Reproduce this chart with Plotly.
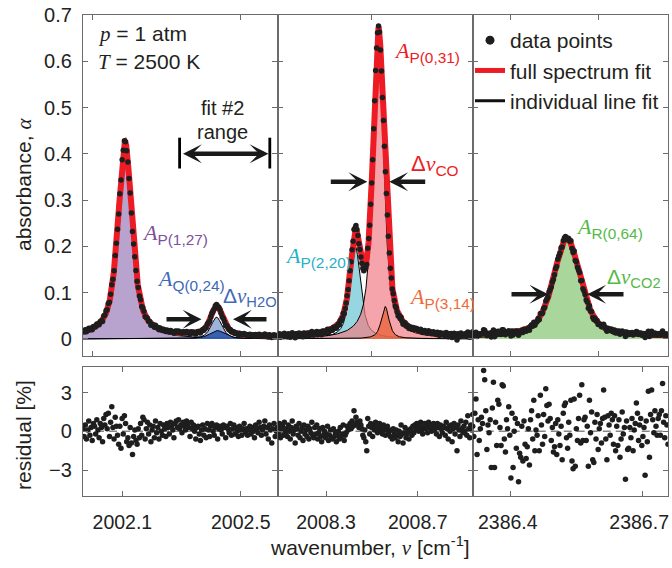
import numpy as np
import plotly.graph_objects as go

W, H = 672, 568
ML, MR, MT, MB = 83, 4, 15, 72
PW, PH = W - ML - MR, H - MT - MB

# ---------------- data ----------------
panel_ranges = [[2001.967, 2002.624], [2008.088, 2008.940], [2386.313, 2386.759]]
panel_baseline = [0.005, 0.004, 0.006]

line_panel = [0, 0, 0, 1, 1, 1, 2]
line_label = ["P(1,27)", "Q(0,24)", "H2O", "P(2,20)", "P(0,31)", "P(3,14)", "R(0,64)"]
line_center = [2002.109, 2002.418, 2002.421, 2008.428, 2008.528, 2008.558, 2386.528]
line_height = [0.420, 0.047, 0.018, 0.200, 0.640, 0.070, 0.212]
line_hwhm = [0.028, 0.022, 0.030, 0.027, 0.028, 0.020, 0.036]
line_eta = [0.70, 0.60, 0.60, 0.70, 0.70, 0.70, 0.50]

resid_1 = [0.2, -0.4, 0.5, -0.6, 0.1, 0.8, -0.3, 0.3, -0.7, 0.6,
           0.4, -0.2, 0.9, 0.1, -0.5, 0.6, 0.3, -0.8, 1.0, 0.5,
           1.3, 0.2, 1.4, -0.4, 0.7, 1.9, 0.3, -0.6, 1.1, 0.4,
           -0.3, -1.0, 0.4, -1.3, 1.0, -0.2, 1.2, 0.6, -0.8, -0.5,
           -1.1, 0.3, -0.9, -1.8, -0.4, 0.1, -0.7, -1.0, 0.2, -0.5,
           0.6, -0.3, 1.1, 0.9, -0.6, 0.2, 0.7, -0.2, 0.5, -0.8,
           0.1, 0.4, -0.5, 0.8, -0.1, 0.3, -0.6, 0.6, 0.0, -0.3,
           0.5, 0.2, -0.4, 0.6, 0.3, -0.2, 0.7, 0.4, 0.1, -0.5,
           0.6, 0.8, 0.3, 0.9, 0.2, 0.5, -0.1, 0.7, 0.4, 0.1,
           0.8, 0.6, 0.3, -0.4, 0.7, 0.2, 0.5, 0.0, -0.6, 0.3,
           0.4, -0.2, -0.7, 0.1, 0.5, -0.3, 0.2, -0.5, 0.6, 0.1,
           -0.4, 0.4, 0.6, 0.0, -0.3, 0.3, 0.5, -0.6, 0.2, 0.4,
           0.1, -0.2, 0.5, 0.3, -0.5, 0.4, 0.2, -0.1, 0.6, -0.3,
           0.2, 0.5, -0.2, 0.3, 0.0, -0.4, 0.4, 0.1, -0.3, 0.2,
           0.6, -0.1, 0.2, -0.3, 0.1, 0.4, -0.2, 0.3, 0.0, -0.5,
           0.5, 0.2, -0.1, 0.7, 0.3, -0.3, 0.1, 0.4, 0.8, -0.2,
           0.3, -0.6, 0.5, 0.1, -0.9, 0.2, 0.6, -0.4, 0.0, 0.3]

resid_2 = [0.3, -0.2, 0.6, -0.5, 0.1, 0.4, -0.3, 0.7, -0.1, 0.2,
           -0.4, 0.5, 0.0, -0.6, 0.3, 0.8, -0.2, 0.1, -0.9, 0.4,
           0.2, -0.3, 0.6, -0.5, 0.0, 0.3, -0.7, 0.5, -0.2, 0.1,
           -0.4, 0.4, -0.6, 0.2, -0.1, 0.7, -0.3, -0.5, 0.3, -0.2,
           0.5, -0.6, -0.1, 0.2, -0.4, -0.8, 0.3, -0.3, 0.0, -0.5,
           -0.2, 0.4, -0.7, -0.3, 0.1, -0.5, -0.6, 0.2, -0.4, -0.1,
           -0.8, -0.3, 0.0, -0.6, 0.3, -0.4, -0.2, 0.5, -0.7, -0.3,
           -0.1, 0.4, 0.1, 0.3, 0.6, 0.2, 0.8, 0.4, 1.6, 0.5,
           1.1, 0.7, 0.6, 0.3, 0.8, 0.5, 0.2, -0.3, -0.5, 0.1,
           -0.8, -1.5, 1.0, 0.4, -0.2, 0.6, 0.3, -0.4, 0.5, 0.1,
           0.7, 0.2, -0.1, 0.4, 0.6, 0.0, 0.3, -0.2, 0.5, 0.1,
           -0.3, 0.2, 0.4, -0.1, 0.0, -0.4, 0.1, -0.6, 0.2, -0.2,
           -0.5, 0.1, -0.3, -0.8, 0.0, -0.4, 0.5, -0.2, -0.9, -0.1,
           0.3, -0.5, -0.2, 0.1, -0.6, 0.0, 0.2, -0.3, 0.4, -0.1,
           0.5, 0.2, 0.6, 0.3, 0.0, 0.4, 0.7, 0.1, -0.2, 0.3,
           0.6, 0.2, 0.4, -0.1, 0.7, 0.3, 0.5, 0.0, 0.2, 0.6,
           0.1, 0.4, -0.2, 0.6, 0.3, -0.4, 0.5, 0.2, -0.1, 0.4,
           0.3, -0.3, 0.7, 0.2, -0.6, 0.4, 0.0, 0.5, -0.8, 0.2,
           0.6, -0.2, 0.3, -1.5, 0.5, 0.1, -0.4, 0.8, 0.2, -0.1,
           0.4, 0.0, 0.7, -0.3, 1.2, 0.2, -0.5, 0.5, 0.1, 1.3]

resid_3 = [0.4, -0.4, 1.4, 2.5, -1.8, 0.9, -0.7, 0.2, 1.1, 0.6,
           4.7, 4.0, 1.6, -1.4, 0.5, -0.1, 0.9, -2.8, 1.8, 3.8,
           -2.8, 0.7, -1.1, 2.4, 2.1, 0.3, -1.1, 3.6, 3.5, -0.6,
           -1.6, 0.9, 0.2, 1.9, -0.3, -3.6, 1.4, -2.8, 0.0, 1.0,
           -1.3, 0.6, -3.9, -1.7, -2.0, 0.4, -2.3, 0.8, -1.0, -2.1,
           -1.2, 0.2, -2.6, 0.9, 1.6, -0.6, 2.4, -1.5, 0.1, -0.3,
           1.2, -1.5, 2.8, 0.5, -1.0, 1.3, -0.4, 3.3, 2.0, 0.8,
           2.1, 1.0, -0.7, 0.3, -1.6, -1.2, 0.6, -1.8, 0.9, -0.2,
           -1.1, 0.4, -2.2, 1.4, 2.0, 2.2, -0.5, -1.3, 0.7, -0.3,
           2.4, -2.3, -2.9, 2.5, -2.7, 0.2, -0.7, 1.0, 2.8, -0.9,
           3.6, -0.7, 0.9, 1.1, -0.7, 0.4, -2.7, 2.4, -0.1, 1.5,
           -2.2, -2.4, 0.7, -0.6, 1.3, -1.4, 0.2, 0.6, -0.9, 1.0,
           3.2, 1.1, -0.6, -2.2, 1.2, 0.5, -0.3, 1.4, 0.9, -1.0,
           1.2, -1.5, 0.4, -1.1, 0.9, -2.0, -0.6, 1.5, -0.2, 0.3,
           -3.7, 0.8, -1.4, -1.3, 0.3, -0.5, 1.0, -1.5, 0.1, 0.6,
           2.2, 1.4, -0.7, 0.5, 1.0, -1.1, -0.4, 0.3, -3.4, 0.8,
           -0.8, 3.1, -2.0, 1.3, 3.2, 0.9, -0.1, 1.6, 0.4, -0.3,
           1.0, 1.3, -0.3, 1.6, 3.7, 0.7, -0.5, 1.2, 0.5, -1.0]
residuals = [resid_1, resid_2, resid_3]

top_ticks = [[2002.0, 2002.5], [2008.5], [2386.4, 2386.6]]
bot_ticks = [[2002.1, 2002.5], [2008.3, 2008.7], [2386.4, 2386.7]]
bot_ticktext = [["2002.1", "2002.5"], ["2008.3", "2008.7"], ["2386.4", "2386.7"]]
abs_ticks = [0, 0.1, 0.2, 0.3, 0.4, 0.5, 0.6, 0.7]
res_ticks = [-3, 0, 3]

# ---------------- styles ----------------
fill_colors = ["rgba(160,132,191,0.75)", "rgba(120,155,210,0.75)", "rgba(40,80,170,0.85)",
               "rgba(78,187,205,0.6)", "rgba(239,125,134,0.7)", "rgba(232,92,46,0.7)",
               "rgba(140,200,120,0.75)"]
RED = "rgb(237,28,36)"
DOT = "#1e1e1e"
AX = "#6b6b6b"
FONT = "Liberation Sans, Arial, sans-serif"
SERIF = "Liberation Serif"


def pv(x, c, h, g, eta):
    d = (x - c) / g
    return h * (eta / (1 + d * d) + (1 - eta) * np.exp(-np.log(2) * d * d))


def px(x):
    return (x - ML) / PW


def py(y):
    return (H - MB - y) / PH


x_dom = [[0, px(277.5)], [px(277.5), px(472.7)], [px(472.7), 1]]
top_dom = [py(356), 1]
bot_dom = [0, py(366.7)]
label_shift = [0, 0, -3]

fig = go.Figure()

for p in range(3):
    xa_top = "x" + ("" if p == 0 else str(p + 1))
    ya_top = "y" + ("" if p == 0 else str(p + 1))
    xa_bot = "x" + str(p + 4)
    ya_bot = "y" + str(p + 4)
    lo, hi = panel_ranges[p]
    xf = np.linspace(lo, hi, 900)
    ids = [i for i in range(len(line_panel)) if line_panel[i] == p]
    full_f = np.full_like(xf, panel_baseline[p])
    for i in ids:
        yi = pv(xf, line_center[i], line_height[i], line_hwhm[i], line_eta[i])
        full_f += yi
        fig.add_trace(go.Scatter(x=xf, y=yi, mode="lines", fill="tozeroy",
                                 fillcolor=fill_colors[i], line=dict(color="black", width=1),
                                 xaxis=xa_top, yaxis=ya_top, showlegend=False, hoverinfo="skip"))
    fig.add_trace(go.Scatter(x=xf, y=full_f, mode="lines", line=dict(color=RED, width=6),
                             xaxis=xa_top, yaxis=ya_top, showlegend=False))
    res = np.array(residuals[p])
    xd = np.linspace(lo, hi, len(res))
    fit_d = np.full_like(xd, panel_baseline[p])
    for i in ids:
        fit_d += pv(xd, line_center[i], line_height[i], line_hwhm[i], line_eta[i])
    data_d = fit_d + res / 100.0 * fit_d.max()
    fig.add_trace(go.Scatter(x=xd, y=data_d, mode="markers",
                             marker=dict(color=DOT, size=5.5, line=dict(width=0)),
                             xaxis=xa_top, yaxis=ya_top, showlegend=False))
    fig.add_trace(go.Scatter(x=xd, y=res, mode="markers",
                             marker=dict(color=DOT, size=5.5, line=dict(width=0)),
                             xaxis=xa_bot, yaxis=ya_bot, showlegend=False))

    common = dict(showline=True, linecolor=AX, linewidth=1.3, mirror="ticks", ticks="inside",
                  ticklen=5, tickcolor=AX, tickwidth=1.2, showgrid=False, zeroline=False,
                  tickfont=dict(size=20, color="#222", family=FONT))
    fig.layout[("xaxis" if p == 0 else "xaxis" + str(p + 1))] = dict(
        common, domain=x_dom[p], range=[lo, hi], anchor=ya_top, tickvals=top_ticks[p],
        showticklabels=False)
    fig.layout["xaxis" + str(p + 4)] = dict(
        common, domain=x_dom[p], range=[lo, hi], anchor=ya_bot, tickvals=bot_ticks[p],
        ticktext=bot_ticktext[p], ticklabelstandoff=8, ticklabelshift=label_shift[p])
    fig.layout["xaxis" + str(p + 4)].tickfont.size = 19.5
    fig.layout[("yaxis" if p == 0 else "yaxis" + str(p + 1))] = dict(
        common, domain=top_dom, range=[-0.037, 0.7], anchor=xa_top, tickvals=abs_ticks,
        ticktext=["0" if v == 0 else str(v) for v in abs_ticks],
        showticklabels=(p == 0), ticklabelstandoff=6)
    fig.layout["yaxis" + str(p + 4)] = dict(
        common, domain=bot_dom, range=[-5, 5], anchor=xa_bot, tickvals=res_ticks,
        showticklabels=(p == 0), ticklabelstandoff=6)
    fig.add_shape(type="line", xref=xa_bot + " domain", yref=ya_bot, x0=0, x1=1, y0=0, y1=0,
                  line=dict(color="#888", width=1.5, dash="8px,5px"), layer="below")

# legend entries
fig.add_trace(go.Scatter(x=[None], y=[None], mode="markers", name="data points",
                         marker=dict(color=DOT, size=9), xaxis="x3", yaxis="y3"))
fig.add_trace(go.Scatter(x=[None], y=[None], mode="lines", name="full spectrum fit",
                         line=dict(color=RED, width=5), xaxis="x3", yaxis="y3"))
fig.add_trace(go.Scatter(x=[None], y=[None], mode="lines", name="individual line fit",
                         line=dict(color="#111", width=3), xaxis="x3", yaxis="y3"))


def serif_i(s):
    return '<span style="font-family:%s"><i>%s</i></span>' % (SERIF, s)


def A_lab(sub):
    return serif_i("A") + "<sub>" + sub + "</sub>"


def dnu(sub):
    return "Δ" + serif_i("ν") + "<sub>" + sub + "</sub>"


ann = []


def txt(x, y, text, color="#231f20", size=22, xanchor="left"):
    ann.append(dict(x=px(x), y=py(y), xref="paper", yref="paper", text=text, showarrow=False,
                    xanchor=xanchor, yanchor="middle", font=dict(size=size, color=color, family=FONT)))


def arrow(tx, ty, sx, sy, side="end"):
    ann.append(dict(x=px(tx), y=py(ty), xref="paper", yref="paper", ax=sx - tx, ay=sy - ty,
                    text="", showarrow=True, arrowhead=3, startarrowhead=3, arrowside=side,
                    arrowsize=0.7, startarrowsize=0.7, arrowwidth=4.5, arrowcolor="#1a1a1a"))


PURPLE = "#7d4f9e"
BLUE = "#4068b8"
CYAN = "#27b0c6"
ORANGE = "#f0693a"
GREEN = "#55b947"

txt(96, 34, serif_i("p") + " = 1 atm", size=21)
txt(96, 62, serif_i("T") + " = 2500 K", size=21)
txt(222, 108, "fit #2", size=20, xanchor="center")
txt(222, 132, "range", size=20, xanchor="center")
arrow(268.5, 153.7, 181.5, 153.7, side="end+start")

txt(140, 234, A_lab("P(1,27)"), PURPLE)
txt(155, 280, A_lab("Q(0,24)"), BLUE)
txt(221, 297, dnu("H2O"), BLUE, size=21)
arrow(201.5, 319.3, 165, 319.3)
arrow(233, 319.3, 268, 319.3)

txt(392, 52, A_lab("P(0,31)"), RED)
txt(409, 165, dnu("CO"), RED)
arrow(367.3, 181.7, 329.3, 181.7)
arrow(389.3, 181.7, 426.7, 181.7)
txt(283, 257, A_lab("P(2,20)"), CYAN)
txt(407, 298, A_lab("P(3,14)"), ORANGE)

txt(574, 228, A_lab("R(0,64)"), GREEN)
txt(605, 278, dnu("CO2"), GREEN, size=21)
arrow(548.3, 294.3, 510, 294.3)
arrow(587.3, 294.3, 625, 294.3)

# axis titles
ann.append(dict(x=px(24), y=py(185), xref="paper", yref="paper", showarrow=False, textangle=-90,
                xanchor="center", yanchor="middle",
                text="absorbance, " + serif_i("α"), font=dict(size=21, color="#231f20", family=FONT)))
ann.append(dict(x=px(23), y=py(435), xref="paper", yref="paper", showarrow=False, textangle=-90,
                xanchor="center", yanchor="middle",
                text="residual [%]", font=dict(size=21, color="#231f20", family=FONT)))
ann.append(dict(x=px(370), y=py(546), xref="paper", yref="paper", showarrow=False,
                xanchor="center", yanchor="middle",
                text="wavenumber, " + serif_i("ν") + " [cm<sup>-1</sup>]",
                font=dict(size=21, color="#231f20", family=FONT)))

shapes = [
    dict(type="line", xref="paper", yref="paper", x0=px(179.6), x1=px(179.6), y0=py(137.7), y1=py(168.5),
         line=dict(color="black", width=2.8)),
    dict(type="line", xref="paper", yref="paper", x0=px(269.8), x1=px(269.8), y0=py(137.7), y1=py(168.5),
         line=dict(color="black", width=2.8)),
]
for s in shapes:
    fig.add_shape(**s)

fig.update_layout(
    width=W, height=H, margin=dict(l=ML, r=MR, t=MT, b=MB),
    paper_bgcolor="white", plot_bgcolor="white",
    font=dict(family=FONT, size=20, color="#231f20"),
    annotations=ann,
    showlegend=True,
    legend=dict(x=px(470), y=py(20), xanchor="left", yanchor="top", bgcolor="rgba(0,0,0,0)",
                font=dict(size=21, color="#231f20", family=FONT), itemwidth=30,
                tracegroupgap=0),
)

fig.write_html("out.html")
